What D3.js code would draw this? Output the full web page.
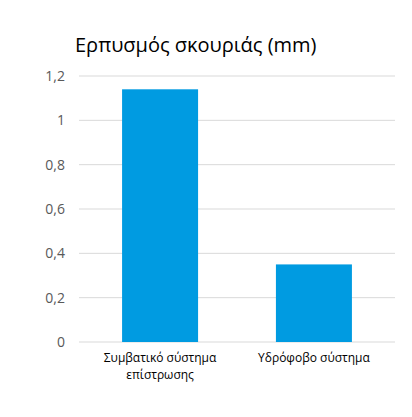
<!DOCTYPE html>
<html><head><meta charset="utf-8">
<script src="https://cdn.jsdelivr.net/npm/d3@7"></script>
<style>body{margin:0;background:#fff;font-family:"Open Sans","Noto Sans",sans-serif}</style>
</head><body><div id="chart"></div>
<script>
const categories = [["Συμβατικό σύστημα", "επίστρωσης"], ["Υδρόφοβο σύστημα"]]
const values = [1.14, 0.35]
const yTicks = [0, 0.2, 0.4, 0.6, 0.8, 1, 1.2]

const width = 412, height = 417
const margin = {top: 76, right: 17, bottom: 75, left: 79}
const w = width - margin.left - margin.right
const h = height - margin.top - margin.bottom

const svg = d3.select("#chart").append("svg")
    .attr("width", width).attr("height", height)

svg.append("text").attr("x", 75).attr("y", 52)
    .style("font-size", "20px").attr("fill", "#000")
    .text("Ερπυσμός σκουριάς (mm)")

const g = svg.append("g").attr("transform", `translate(${margin.left},${margin.top})`)

const xb = d3.scaleBand().domain(d3.range(values.length)).range([0, w]).paddingInner(0.506).paddingOuter(0.28)
const y = d3.scaleLinear().domain([0, 1.2]).range([h, 0])

g.selectAll(".grid").data(yTicks).join("line")
    .attr("x1", 0).attr("x2", w)
    .attr("y1", d => y(d)).attr("y2", d => y(d))
    .attr("stroke", "#d9d9d9").attr("stroke-width", 1)

g.append("g")
    .call(d3.axisLeft(y).tickValues(yTicks).tickSize(0).tickPadding(14)
        .tickFormat(d => String(d).replace(".", ",")))
    .call(a => a.select(".domain").remove())
    .selectAll("text").style("font-size", "14px").style("font-family", "Open Sans").attr("fill", "#595959")

g.selectAll(".bar").data(values).join("rect")
    .attr("x", (d, i) => xb(i)).attr("width", xb.bandwidth())
    .attr("y", d => y(d)).attr("height", d => h - y(d))
    .attr("fill", "#009be1")

const lab = g.selectAll(".lab").data(categories).join("text")
    .attr("text-anchor", "middle")
    .attr("transform", (d, i) => `translate(${xb(i) + xb.bandwidth() / 2},${h + 20})`)
    .style("font-size", "12px").attr("fill", "#000")
lab.selectAll("tspan").data(d => d).join("tspan")
    .attr("x", 0).attr("dy", (d, i) => i ? 17 : 0).text(d => d)
</script></body></html>
